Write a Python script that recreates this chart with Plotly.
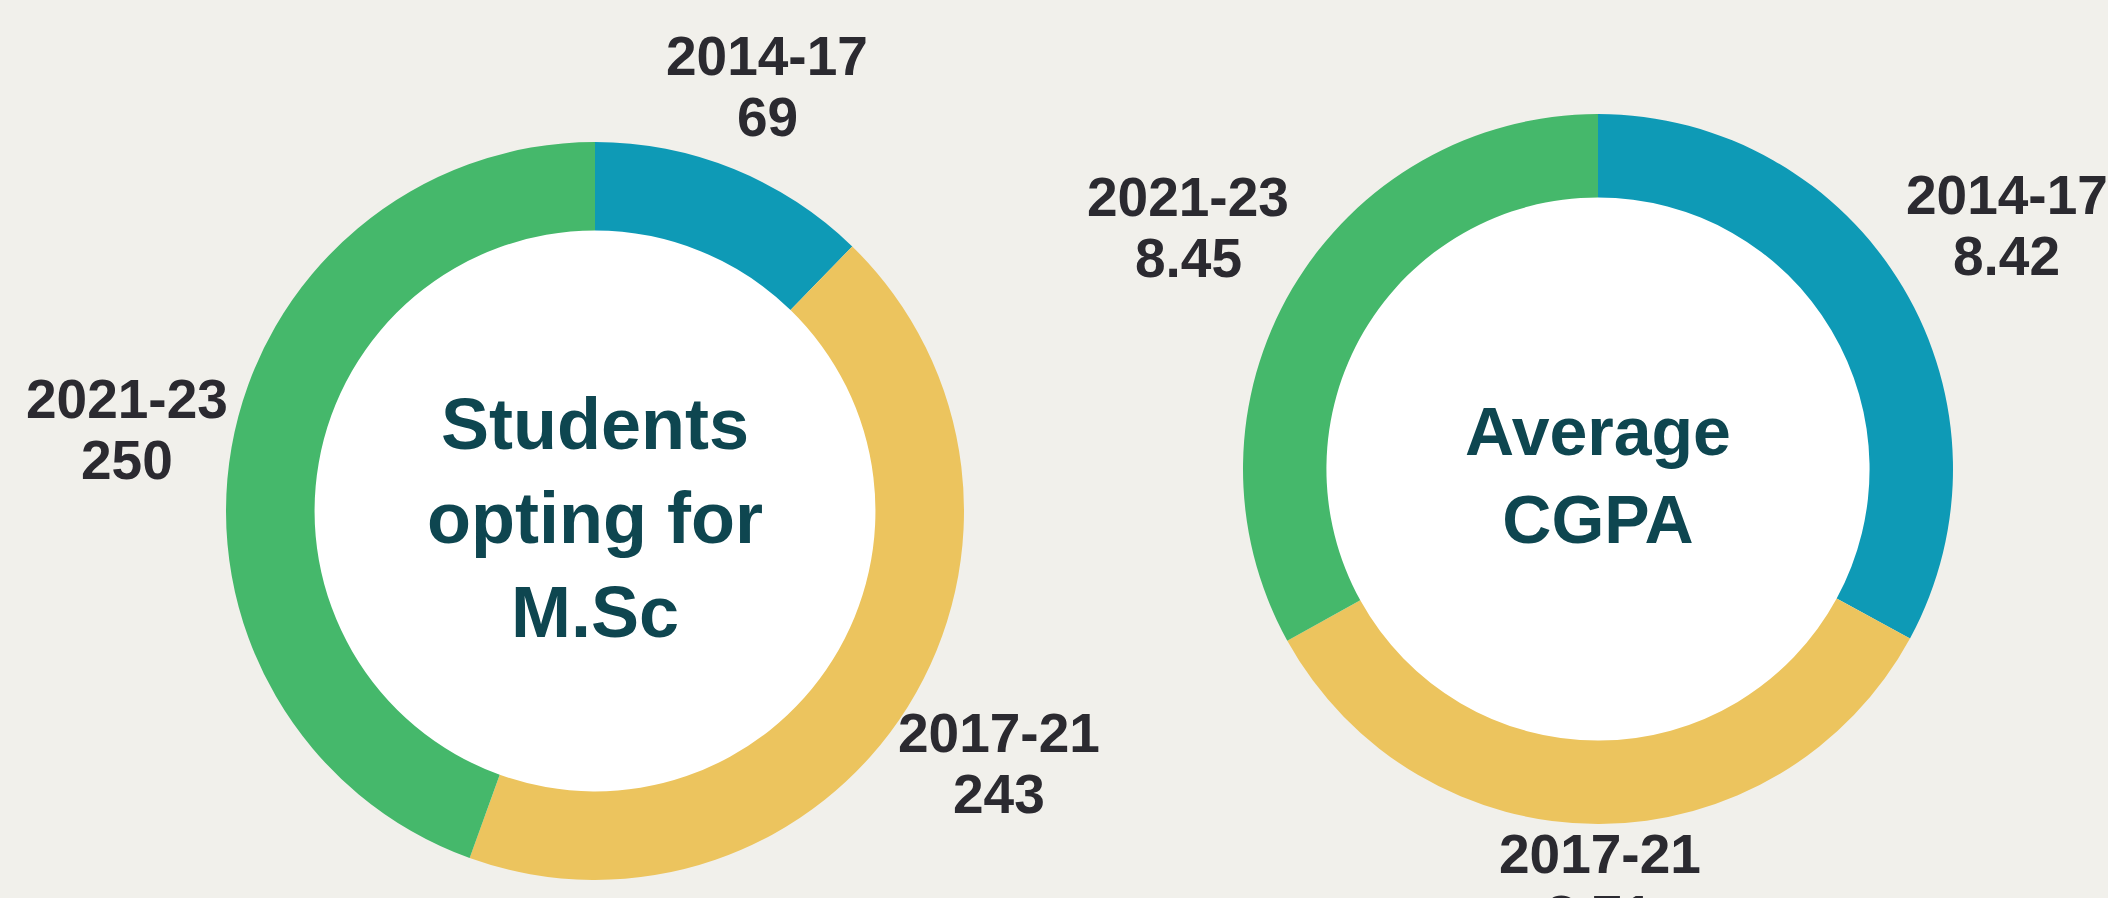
import math
import plotly.graph_objects as go

periods = ["2014-17", "2017-21", "2021-23"]
msc_students = [69, 243, 250]
avg_cgpa = [8.42, 8.71, 8.45]
colors = ["#0e9ab6", "#ecc45e", "#45b86b"]

W, H = 2108, 898
BG = "#f1f0eb"
LABEL_COLOR = "#2b2a30"
CENTER_COLOR = "#0e4650"
FONT = "Liberation Sans, Arial, sans-serif"
LABEL_SIZE = 55
LINE_GAP = 61

# pie placement (pixels): center x, center y (from top), outer radius
left_geo = (595, 511, 369)
right_geo = (1598, 469, 355)


def domain(geo):
    cx, cy, r = geo
    yb = H - cy
    return dict(x=[(cx - r) / W, (cx + r) / W],
                y=[(yb - r) / H, (yb + r) / H])


def hole_shape(geo, frac):
    cx, cy, r = geo
    rr = r * frac
    yb = H - cy
    return dict(type="circle", xref="paper", yref="paper",
                x0=(cx - rr) / W, x1=(cx + rr) / W,
                y0=(yb - rr) / H, y1=(yb + rr) / H,
                fillcolor="white", line=dict(width=0), layer="below")


def donut(values, geo, hole, title, title_size):
    return go.Pie(
        labels=periods, values=values, sort=False, direction="clockwise",
        rotation=0, hole=hole, domain=domain(geo),
        marker=dict(colors=colors, line=dict(width=0)),
        textinfo="none",
        title=dict(text=title, position="middle center",
                   font=dict(family=FONT, size=title_size, color=CENTER_COLOR, weight="bold")),
        hoverinfo="skip", showlegend=False,
    )


def outside_labels(values, geo, fmt):
    cx, cy, r = geo
    total = sum(values)
    anns = []
    cum = 0.0
    hw = 97.0
    for lab, v in zip(periods, values):
        mid = (cum + v / 2) / total * 2 * math.pi
        cum += v
        sx, sy = math.sin(mid), -math.cos(mid)
        hh = 75.0 if sy < 0 else 53.0
        rp = r + 8
        px, py = cx + rp * sx, cy + rp * sy
        t = min(hw / abs(sx) if abs(sx) > 1e-6 else 1e9,
                hh / abs(sy) if abs(sy) > 1e-6 else 1e9)
        lx, ly = px + sx * t, py + sy * t
        for txt, dy in ((lab, -LINE_GAP / 2), (fmt.format(v), LINE_GAP / 2)):
            anns.append(dict(
                text=txt, xref="paper", yref="paper",
                x=lx / W, y=1 - (ly + dy) / H,
                xanchor="center", yanchor="middle", showarrow=False,
                font=dict(family=FONT, size=LABEL_SIZE, color=LABEL_COLOR, weight="bold"),
            ))
    return anns


fig = go.Figure()
fig.add_trace(donut(msc_students, left_geo, 0.76, "Students<br>opting for<br>M.Sc", 72))
fig.add_trace(donut(avg_cgpa, right_geo, 0.765, "Average<br>CGPA", 68))

fig.update_layout(
    width=W, height=H,
    margin=dict(l=0, r=0, t=0, b=0),
    paper_bgcolor=BG, plot_bgcolor=BG,
    shapes=[hole_shape(left_geo, 0.88), hole_shape(right_geo, 0.88)],
    annotations=outside_labels(msc_students, left_geo, "{:g}")
    + outside_labels(avg_cgpa, right_geo, "{:.2f}"),
)

fig.write_html("out.html", config={"displayModeBar": False},
               post_script="document.body.style.margin='0';")
